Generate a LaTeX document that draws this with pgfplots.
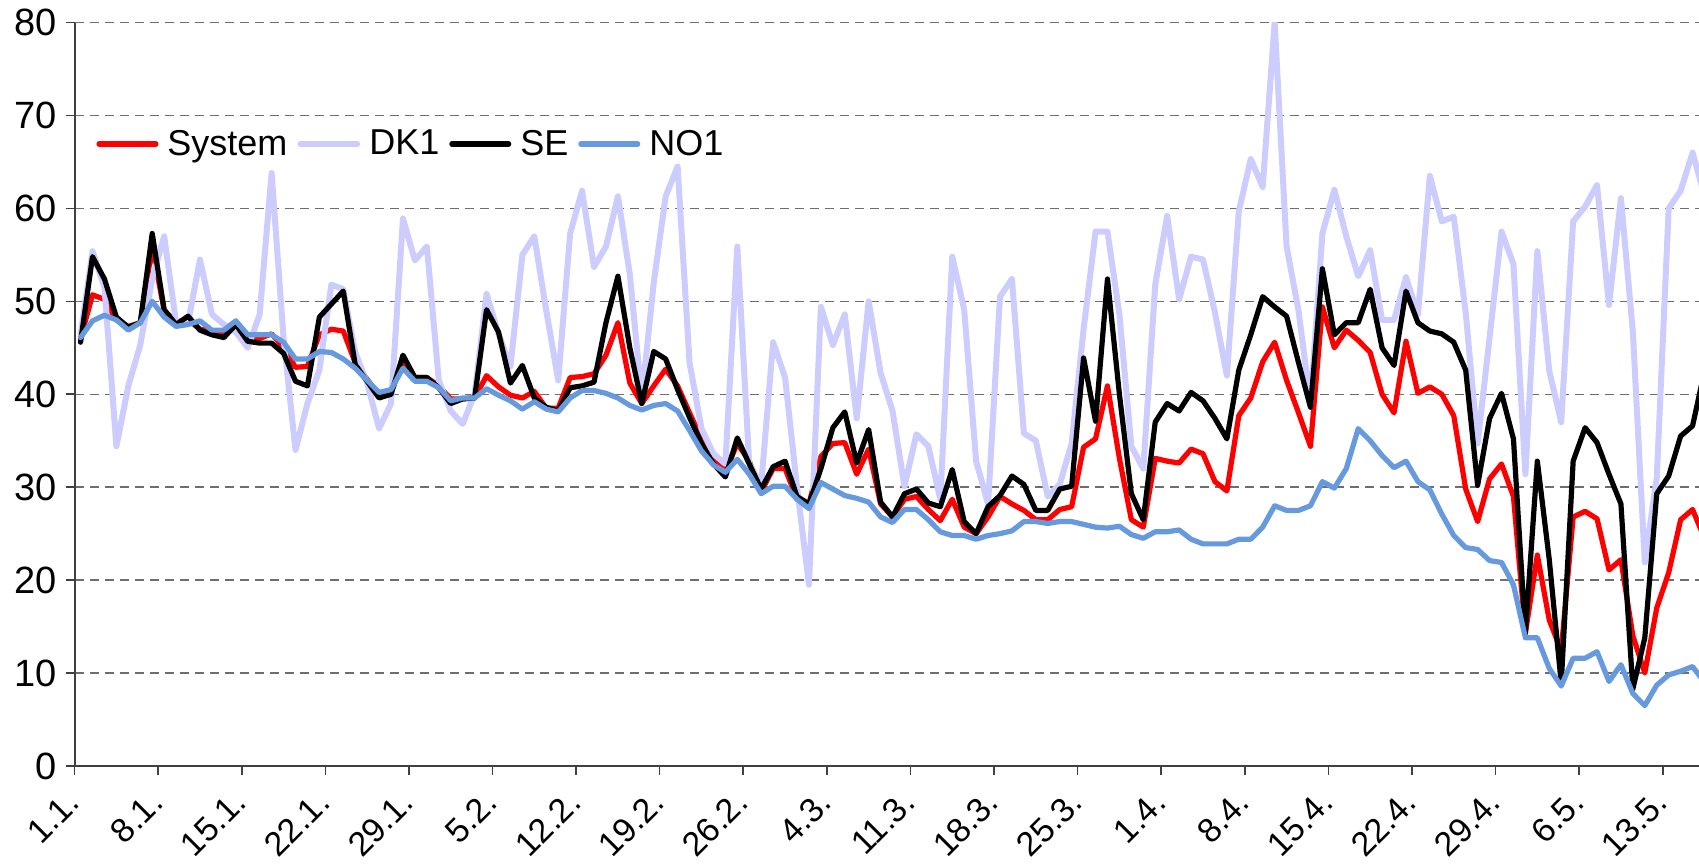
\documentclass[border=0pt]{standalone}
\usepackage{fontspec}
\setmainfont{Liberation Sans}
\usepackage{pgfplots}
\usepackage{pgfplotstable}
\pgfplotsset{compat=1.18}
\definecolor{sysred}{RGB}{255,0,0}
\definecolor{dkone}{RGB}{204,204,255}
\definecolor{noone}{RGB}{102,153,222}
\definecolor{gridgray}{RGB}{110,110,110}

\pgfplotstableread{
d sys dk se no
0 46.0 46.4 45.6 46.1
1 50.7 55.4 54.8 47.9
2 50.2 51.5 52.4 48.5
3 48.0 34.4 48.3 48.0
4 47.3 40.9 47.2 46.9
5 47.7 45.3 47.7 47.7
6 55.9 52.4 57.3 50.0
7 49.0 57.0 49.1 48.3
8 47.8 47.7 47.5 47.3
9 48.0 47.7 48.4 47.5
10 47.0 54.5 46.9 47.9
11 46.8 48.6 46.4 46.9
12 46.5 47.5 46.1 46.9
13 47.3 46.7 47.5 47.9
14 46.0 45.0 45.7 46.4
15 46.0 48.6 45.5 46.4
16 46.5 63.8 45.5 46.4
17 45.0 46.0 44.4 45.6
18 42.9 34.0 41.4 43.8
19 43.0 39.0 40.9 43.8
20 46.4 42.6 48.3 44.6
21 47.0 51.8 49.7 44.5
22 46.8 51.3 51.1 43.8
23 43.4 44.5 43.2 42.8
24 41.6 41.2 41.4 41.5
25 39.9 36.3 39.6 40.2
26 40.2 39.0 40.0 40.5
27 43.5 58.9 44.2 42.8
28 41.8 54.4 41.8 41.4
29 41.8 55.9 41.8 41.4
30 40.9 41.5 40.7 40.7
31 39.5 38.2 39.0 39.3
32 39.5 36.8 39.5 39.6
33 39.6 40.0 39.6 39.6
34 42.0 50.8 49.1 40.6
35 40.8 46.5 46.7 39.9
36 39.9 43.0 41.2 39.3
37 39.6 55.0 43.1 38.4
38 40.3 57.0 39.6 39.2
39 38.5 49.0 38.6 38.4
40 38.5 41.5 38.2 38.1
41 41.8 57.3 40.7 39.6
42 41.9 61.9 40.9 40.4
43 42.2 53.7 41.3 40.4
44 44.2 55.9 47.7 40.1
45 47.7 61.3 52.7 39.6
46 41.2 52.9 45.0 38.8
47 39.0 39.6 39.0 38.3
48 40.9 52.0 44.6 38.8
49 42.7 61.3 43.8 39.0
50 40.9 64.5 40.5 38.2
51 38.0 43.4 37.5 36.1
52 35.2 36.3 34.7 33.9
53 33.1 33.6 32.5 32.4
54 31.7 32.5 31.1 31.6
55 34.7 55.9 35.3 33.0
56 32.8 32.5 32.5 31.4
57 29.5 30.3 29.8 29.3
58 32.0 45.6 32.2 30.1
59 32.0 41.8 32.8 30.1
60 28.7 30.0 29.0 28.7
61 28.2 19.5 28.2 27.7
62 33.3 49.4 32.0 30.5
63 34.7 45.3 36.4 29.8
64 34.8 48.6 38.1 29.1
65 31.4 37.4 32.6 28.8
66 34.1 50.0 36.2 28.4
67 28.2 42.3 28.4 26.8
68 26.8 38.2 26.8 26.2
69 28.7 30.1 29.3 27.6
70 29.0 35.7 29.8 27.6
71 27.6 34.4 28.3 26.5
72 26.4 28.7 27.9 25.2
73 28.7 54.8 31.9 24.8
74 25.7 49.1 26.3 24.8
75 25.0 32.8 25.0 24.4
76 26.8 28.2 27.9 24.8
77 29.0 50.5 29.1 25.0
78 28.2 52.4 31.2 25.3
79 27.5 35.8 30.3 26.3
80 26.5 35.0 27.5 26.3
81 26.5 29.0 27.5 26.1
82 27.6 30.3 29.8 26.3
83 27.9 34.7 30.1 26.3
84 34.3 47.0 43.9 26.0
85 35.2 57.5 37.1 25.7
86 40.9 57.5 52.4 25.6
87 33.1 48.6 40.0 25.8
88 26.5 34.4 29.3 24.9
89 25.7 32.0 26.5 24.5
90 33.1 51.8 37.0 25.2
91 32.8 59.2 39.0 25.2
92 32.6 50.2 38.2 25.4
93 34.1 54.8 40.2 24.4
94 33.6 54.5 39.3 23.9
95 30.6 48.8 37.4 23.9
96 29.6 42.0 35.2 23.9
97 37.7 59.7 42.6 24.4
98 39.6 65.3 46.4 24.4
99 43.5 62.3 50.5 25.7
100 45.6 80.0 49.4 28.0
101 41.5 55.9 48.4 27.5
102 38.0 49.0 43.4 27.5
103 34.4 39.0 38.6 28.0
104 49.4 57.3 53.5 30.6
105 45.0 62.0 46.4 29.9
106 46.9 57.0 47.7 32.0
107 45.8 52.7 47.7 36.3
108 44.5 55.5 51.3 35.0
109 40.0 48.0 45.0 33.4
110 38.0 48.0 43.1 32.1
111 45.7 52.6 51.1 32.8
112 40.1 48.6 47.7 30.6
113 40.8 63.5 46.8 29.7
114 40.0 58.6 46.5 27.1
115 37.7 59.1 45.6 24.8
116 29.8 48.8 42.6 23.5
117 26.3 34.7 30.2 23.3
118 30.9 46.1 37.4 22.1
119 32.5 57.5 40.1 21.9
120 29.0 54.0 35.2 19.5
121 14.3 31.4 14.3 13.8
122 22.7 55.4 32.8 13.8
123 15.7 42.5 22.2 10.5
124 12.4 37.0 8.9 8.6
125 26.8 58.6 32.8 11.6
126 27.4 60.2 36.4 11.6
127 26.6 62.5 34.8 12.3
128 21.1 49.6 31.4 9.1
129 22.2 61.1 28.2 10.9
130 14.0 46.7 8.3 7.8
131 10.0 21.9 13.8 6.5
132 17.0 31.0 29.3 8.7
133 20.8 60.0 31.2 9.8
134 26.5 61.9 35.5 10.2
135 27.6 66.0 36.6 10.7
136 24.5 61.4 42.5 9.0
}\data

\begin{document}
\begin{tikzpicture}
\begin{axis}[
  at={(37.3pt,50.5pt)}, anchor=south west,
  width=812.2pt, height=371.75pt, scale only axis,
  xmin=-0.5, xmax=135.54, ymin=0, ymax=80,
  axis x line*=bottom, axis y line*=left,
  axis line style={-, black!75, line width=0.9pt},
  tick align=outside, major tick length=4.5pt,
  tick style={black!75, line width=0.8pt},
  xtick={-0.5,6.5,...,132.5},
  xticklabels={1.1.,8.1.,15.1.,22.1.,29.1.,5.2.,12.2.,19.2.,26.2.,4.3.,11.3.,18.3.,25.3.,1.4.,8.4.,15.4.,22.4.,29.4.,6.5.,13.5.},
  ytick={0,10,...,80},
  ymajorgrids,
  major grid style={gridgray, line width=0.7pt, dash pattern=on 4.5pt off 3pt},
  /pgf/number format/assume math mode=true,
  yticklabel style={font=\fontsize{19}{22}\selectfont, xshift=-1pt},
  xticklabel style={font=\fontsize{17}{20}\selectfont, rotate=45, anchor=east, inner sep=1pt},
  xticklabel shift=10pt,
  legend style={at={(axis description cs:0.0095,0.8366)}, anchor=west, draw=none, fill=none,
    legend columns=4, font=\fontsize{18}{21}\selectfont,
    nodes={inner xsep=2pt},
    /tikz/every odd column/.append style={column sep=2.5pt},
    /tikz/every even column/.append style={column sep=3pt}},
  legend image code/.code={\draw[#1] (1.3pt,0pt) -- (29.7pt,0pt);},
  every axis plot/.append style={line join=round, line cap=round},
]
\addplot[sysred, line width=2.6pt] table[x=d, y=sys] {\data};
\addplot[dkone, line width=3pt] table[x=d, y=dk] {\data};
\addplot[black, line width=2.6pt] table[x=d, y=se] {\data};
\addplot[noone, line width=2.6pt] table[x=d, y=no] {\data};
\legend{System, DK1, SE, NO1}
\end{axis}
\pgfresetboundingbox
\path (0pt,0pt) rectangle (849.5pt,433.5pt);
\end{tikzpicture}
\end{document}
